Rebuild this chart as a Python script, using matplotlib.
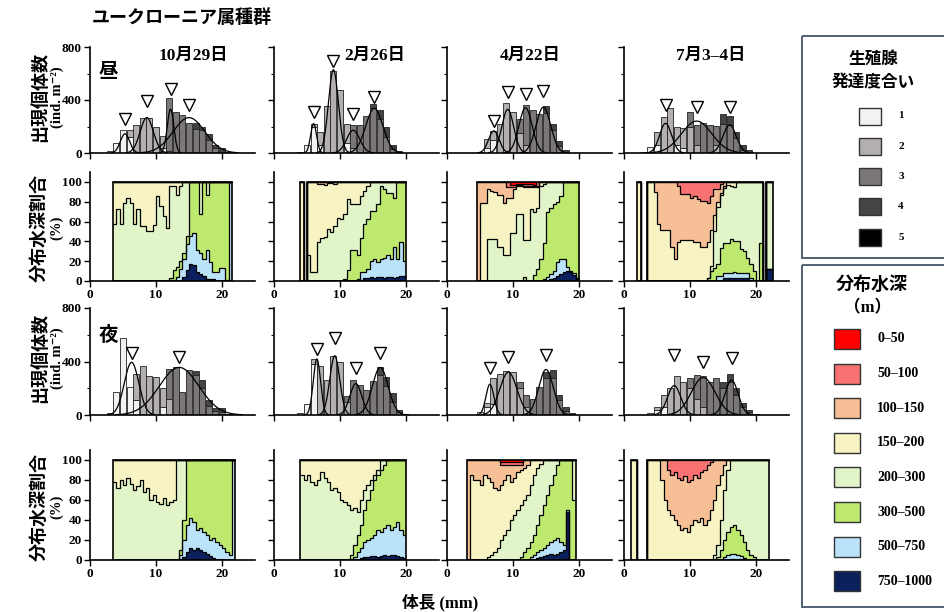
import numpy as np
import matplotlib
matplotlib.use('Agg')
import matplotlib.pyplot as plt
from matplotlib.patches import Rectangle

plt.rcParams['font.family'] = ['Liberation Serif', 'Noto Sans CJK JP', 'DejaVu Sans']
plt.rcParams['font.weight'] = 'bold'
plt.rcParams['axes.unicode_minus'] = False

# ------------------------------------------------------------------ labels
TITLE = 'ユークローニア属種群'
DATES = ['10月29日', '2月26日', '4月22日', '7月3–4日']
STAGE_LABELS = ['1', '2', '3', '4', '5']
DEPTH_LABELS = ['0–50', '50–100', '100–150', '150–200', '200–300', '300–500', '500–750', '750–1000']
STAGE_COLORS = ['#f2f2f2', '#b3afaf', '#7b7777', '#454343', '#000000']
DEPTH_CLASSES = ['navy', 'blue', 'green', 'lgreen', 'yellow', 'peach', 'salmon', 'red']
DEPTH_COLORS = {'red': '#ff0000', 'salmon': '#f87272', 'peach': '#f6bf95', 'yellow': '#f7f3c2',
                'lgreen': '#e1f5c8', 'green': '#bde96e', 'blue': '#bae3fa', 'navy': '#0b215e'}

# ------------------------------------------------------------------ histograms (ind. m-2), 1 mm bins
# day
hd1_x = list(range(3, 22))
hd1_s1 = [17, 72, 172, 120, 0, 0, 0, 0, 40, 16, 0, 0, 0, 0, 0, 0, 0, 0, 0]
hd1_s2 = [0, 0, 0, 52, 215, 267, 267, 196, 92, 0, 0, 0, 0, 0, 0, 0, 0, 0, 0]
hd1_s3 = [0, 0, 0, 0, 0, 0, 0, 0, 0, 400, 309, 284, 224, 180, 170, 100, 40, 0, 0]
hd1_s4 = [0, 0, 0, 0, 0, 0, 0, 0, 0, 0, 0, 0, 0, 49, 30, 42, 22, 37, 10]
hd1_mean = [5.3, 8.6, 12.2, 15.0]
hd1_sd = [0.7, 1.0, 0.5, 2.4]
hd1_peak = [145, 267, 330, 267]
hd1_tri = [254, 391, 486, 359]

hd2_x = list(range(4, 20))
hd2_s1 = [8, 60, 200, 60, 0, 0, 0, 72, 0, 0, 0, 0, 0, 0, 0, 0]
hd2_s2 = [0, 0, 22, 100, 352, 621, 476, 150, 40, 0, 0, 0, 0, 0, 0, 0]
hd2_s3 = [0, 0, 0, 0, 0, 0, 0, 0, 170, 215, 277, 340, 260, 120, 30, 0]
hd2_s4 = [0, 0, 0, 0, 0, 0, 0, 0, 0, 0, 0, 32, 62, 77, 30, 17]
hd2_mean = [6.0, 9.0, 12.0, 15.2]
hd2_sd = [0.45, 0.75, 1.0, 1.3]
hd2_peak = [222, 628, 172, 337]
hd2_tri = [309, 696, 297, 426]

hd3_x = list(range(5, 19))
hd3_s1 = [10, 40, 100, 0, 0, 0, 0, 0, 0, 0, 0, 0, 0, 0]
hd3_s2 = [0, 65, 67, 217, 374, 309, 150, 60, 0, 0, 0, 0, 0, 0]
hd3_s3 = [0, 0, 0, 0, 0, 0, 104, 299, 321, 291, 300, 170, 50, 0]
hd3_s4 = [0, 0, 0, 0, 0, 0, 0, 0, 0, 0, 54, 47, 42, 25]
hd3_mean = [7.1, 9.2, 11.9, 14.6]
hd3_sd = [0.8, 0.9, 1.0, 1.1]
hd3_peak = [167, 329, 341, 346]
hd3_tri = [241, 458, 448, 471]

hd4_x = list(range(3, 20))
hd4_s1 = [5, 42, 60, 0, 0, 60, 40, 0, 0, 0, 0, 0, 0, 0, 0, 0, 0]
hd4_s2 = [0, 0, 97, 274, 341, 139, 152, 200, 60, 0, 0, 60, 0, 0, 0, 0, 0]
hd4_s3 = [0, 0, 0, 0, 0, 0, 0, 111, 152, 224, 212, 147, 221, 211, 112, 22, 0]
hd4_s4 = [0, 0, 0, 0, 0, 0, 0, 0, 0, 0, 0, 0, 70, 70, 50, 40, 25]
hd4_mean = [6.3, 11.0, 16.0]
hd4_sd = [0.9, 2.3, 1.0]
hd4_peak = [224, 241, 212]
hd4_tri = [361, 349, 349]

# night
hn1_x = list(range(3, 22))
hn1_s1 = [17, 169, 574, 210, 114, 0, 0, 0, 60, 0, 0, 0, 0, 0, 0, 0, 0, 0, 0]
hn1_s2 = [0, 0, 0, 0, 193, 370, 290, 283, 141, 120, 0, 0, 0, 0, 0, 0, 0, 0, 0]
hn1_s3 = [0, 0, 0, 0, 0, 0, 0, 0, 0, 226, 356, 169, 339, 300, 200, 70, 30, 20, 0]
hn1_s4 = [0, 0, 0, 0, 0, 0, 0, 0, 0, 0, 0, 0, 0, 32, 61, 44, 26, 36, 10]
hn1_mean = [6.3, 13.5]
hn1_sd = [1.1, 3.0]
hn1_peak = [394, 356]
hn1_tri = [460, 436]

hn2_x = list(range(4, 21))
hn2_s1 = [12, 85, 380, 0, 0, 0, 0, 0, 0, 0, 0, 0, 0, 0, 0, 0, 0]
hn2_s2 = [0, 0, 39, 363, 259, 443, 394, 100, 0, 0, 0, 0, 0, 0, 0, 0, 0]
hn2_s3 = [0, 0, 0, 0, 0, 0, 0, 45, 259, 223, 186, 254, 300, 220, 100, 20, 0]
hn2_s4 = [0, 0, 0, 0, 0, 0, 0, 0, 0, 0, 0, 0, 56, 63, 62, 21, 10]
hn2_mean = [6.5, 9.2, 12.4, 16.1]
hn2_sd = [0.55, 0.75, 0.9, 1.2]
hn2_peak = [419, 443, 235, 356]
hn2_tri = [496, 573, 351, 460]

hn3_x = list(range(5, 20))
hn3_s1 = [20, 60, 80, 0, 0, 0, 0, 0, 0, 0, 0, 0, 0, 0, 0]
hn3_s2 = [0, 30, 200, 310, 330, 320, 200, 60, 0, 0, 0, 0, 0, 0, 0]
hn3_s3 = [0, 0, 0, 0, 0, 0, 50, 90, 120, 210, 280, 280, 110, 30, 0]
hn3_s4 = [0, 0, 0, 0, 0, 0, 0, 0, 0, 0, 40, 60, 40, 30, 15]
hn3_mean = [6.5, 9.3, 15.0]
hn3_sd = [0.6, 1.3, 1.1]
hn3_peak = [230, 320, 340]
hn3_tri = [352, 434, 449]

hn4_x = list(range(4, 21))
hn4_s1 = [15, 40, 60, 0, 0, 0, 0, 0, 0, 0, 0, 0, 0, 0, 0, 0, 0]
hn4_s2 = [0, 20, 90, 200, 290, 250, 200, 120, 60, 0, 0, 0, 0, 0, 0, 0, 0]
hn4_s3 = [0, 0, 0, 0, 0, 0, 80, 180, 230, 250, 280, 200, 250, 150, 60, 20, 0]
hn4_s4 = [0, 0, 0, 0, 0, 0, 0, 0, 0, 0, 0, 50, 60, 50, 30, 20, 10]
hn4_mean = [7.6, 12.0, 16.3]
hn4_sd = [1.0, 1.8, 1.0]
hn4_peak = [220, 280, 260]
hn4_tri = [449, 396, 426]

# ------------------------------------------------------------------ depth distribution (%), 0.5 mm bins
# values = cumulative upper edge (%) of each depth class, stacked from deepest class
BIN_W = 0.5
dd1_start = 3.5
dd1_navy = [0]*21 + [4, 11, 17, 16, 9, 7, 5, 2, 2, 2] + [0]*5
dd1_blue = [0]*17 + [1, 1, 4, 12, 22, 37, 45, 48, 31, 28, 22, 31, 19, 9, 9, 13, 13, 1, 100]
dd1_green = [0]*17 + [3, 11, 14, 20, 28, 45, 100, 100, 100, 68, 100, 87, 100, 100, 100, 100, 100, 100, 100]
dd1_lgreen = [58, 73, 58, 79, 84, 79, 58, 73, 56, 56, 50, 50, 57, 86, 76, 66, 53, 96, 96, 87, 96] + [100]*15
dd1_yellow = [100]*36

dd2_start = 4.0
dd2_navy = [0, 0] + [0]*16 + [1, 3, 3, 4, 3, 4, 4, 3, 4, 4, 3, 4, 5, 5]
dd2_blue = [0, 0] + [0]*15 + [2, 9, 9, 12, 20, 22, 19, 22, 23, 26, 22, 34, 22, 39, 20]
dd2_green = [0, 0] + [0]*11 + [2, 11, 31, 31, 26, 43, 58, 63, 71, 71, 78, 96, 93, 89, 89, 84, 100, 100, 100]
dd2_lgreen = [0, 0] + [26, 9, 9, 39, 43, 44, 52, 49, 56, 64, 63, 68, 83, 78, 78, 78, 86, 91, 96] + [100]*11
dd2_yellow = [100, 0] + [100, 100, 100, 98, 98, 97, 99, 99, 98] + [100]*21
dd2_peach = [100, 0] + [100]*30

dd3_start = 4.5
dd3_navy = [0]*22 + [2, 3, 5, 7, 9, 10, 9, 6, 2]
dd3_blue = [0]*20 + [2, 4, 7, 10, 19, 22, 22, 14, 10, 8, 3]
dd3_green = [0]*14 + [4, 0, 0, 6, 12, 22, 38, 70, 74, 78, 80, 86, 100, 100, 100, 100, 100]
dd3_lgreen = [0, 0, 0, 42, 42, 42, 34, 34, 26, 26, 48, 48, 68, 68, 41, 41, 73, 70, 74, 96, 98] + [100]*10
dd3_yellow = [0, 79, 79, 93, 91, 90, 87, 87, 79, 84, 84, 93, 96, 96, 95, 95, 95, 95, 95, 100] + [100]*11
dd3_peach = [100]*9 + [95, 95, 95, 97, 97, 96, 96, 96, 96, 96] + [100]*12
dd3_salmon = [100]*10 + [97, 97, 98, 98, 98, 98, 98, 97] + [100]*13
dd3_red = [100]*31

dd4_start = 2.0
dd4_navy = [0]*26 + [3]*8 + [0]*5 + [12, 12]
dd4_blue = [0]*24 + [5, 5, 8, 8, 8, 9, 8, 8, 8, 8, 3] + [0]*4 + [12, 12]
dd4_green = [0]*21 + [3, 10, 13, 17, 33, 38, 38, 42, 40, 40, 32, 30, 23, 17, 10, 0, 38] + [0, 12, 12]
dd4_lgreen = [0]*21 + [3, 15, 50, 75, 87, 94, 97, 96, 95] + [100]*8 + [0, 100, 100]
dd4_yellow = [100, 0, 0, 100, 100, 90, 58, 51, 51, 51, 34, 22, 39, 41, 41, 41, 41, 39, 39, 34, 34, 39, 51,
              67, 80, 89, 96] + [100]*11 + [0, 100, 100]
dd4_peach = [100, 0, 0] + [100]*9 + [96, 88, 88, 88, 84, 86, 83, 81, 81, 79, 86, 93, 93, 98] + [100]*12 + [0, 100, 100]
dd4_salmon = [100, 0, 0] + [100]*35 + [0, 100, 100]

dn1_start = 3.5
dn1_navy = [0]*21 + [3, 8, 12, 10, 12, 10, 8, 6, 4, 2] + [0]*6
dn1_blue = [0]*20 + [5, 20, 35, 42, 38, 30, 32, 28, 25, 20, 22, 18, 15, 12, 8, 5, 100]
dn1_green = [0]*20 + [10, 40] + [100]*15
dn1_lgreen = [78, 72, 80, 75, 82, 76, 70, 74, 80, 68, 72, 60, 65, 58, 56, 62, 55, 58, 60, 100, 100] + [100]*16
dn1_yellow = [100]*37

dn2_start = 4.0
dn2_navy = [0]*18 + [2, 3, 3, 4, 4, 3, 4, 5, 4, 5, 5, 4, 3, 2]
dn2_blue = [0]*16 + [3, 8, 12, 18, 20, 22, 25, 30, 28, 32, 35, 30, 33, 38, 30, 25]
dn2_green = [0]*15 + [5, 15, 25, 35, 50, 60, 70, 80, 85, 90, 95, 100, 100, 100, 100, 100, 100]
dn2_lgreen = [85, 80, 85, 78, 75, 80, 88, 82, 78, 70, 72, 68, 60, 58, 55, 50, 52, 48, 60, 70, 75, 80, 85, 90] + [100]*8
dn2_yellow = [100]*32

dn3_start = 3.0
dn3_navy = [0]*21 + [2, 3, 4, 5, 6, 5, 6, 8, 10, 48, 0, 0]
dn3_blue = [0]*19 + [3, 5, 8, 10, 12, 15, 18, 20, 22, 18, 15, 50, 0, 0]
dn3_green = [0]*16 + [3, 8, 12, 18, 25, 35, 45, 55, 65, 75, 85, 95, 100, 100, 100, 100, 60]
dn3_lgreen = [0]*6 + [3, 5, 8, 12, 20, 25, 30, 40, 45, 50, 55, 60, 65, 75, 85, 92, 96] + [100]*10
dn3_yellow = [0, 85, 80, 80, 75, 85, 82, 78, 72, 70, 75, 80, 85, 78, 82, 88, 90, 92, 95] + [100]*14
dn3_peach = [100]*10 + [95]*7 + [100]*16
dn3_salmon = [100]*10 + [98]*7 + [100]*16
dn3_red = [100]*33

dn4_start = 1.0
dn4_navy = [0]*30 + [1, 1, 1, 1] + [0]*8
dn4_blue = [0]*28 + [3, 5, 6, 6, 5, 4, 2] + [0]*7
dn4_green = [0]*26 + [3, 10, 20, 28, 33, 35, 30, 25, 18, 10, 5, 3] + [0]*4
dn4_lgreen = [0]*25 + [5, 15, 40, 70, 90] + [100]*11 + [100]
dn4_yellow = [100, 100, 0, 0, 0, 100, 100, 100, 100] + [80, 60, 50, 45, 40, 35, 30, 32, 28, 35, 40, 38, 42, 35,
                                                        40, 50, 60, 75, 85, 95] + [100]*12 + [100]
dn4_peach = [100, 100, 0, 0, 0] + [100]*6 + [90, 85, 88, 82, 80, 84, 78, 80, 85, 82, 88, 90, 95, 98] + [100]*17
dn4_salmon = [100, 100, 0, 0, 0] + [100]*37

# ------------------------------------------------------------------ assemble
hist_day = [
    (hd1_x, [hd1_s1, hd1_s2, hd1_s3, hd1_s4], hd1_mean, hd1_sd, hd1_peak, hd1_tri),
    (hd2_x, [hd2_s1, hd2_s2, hd2_s3, hd2_s4], hd2_mean, hd2_sd, hd2_peak, hd2_tri),
    (hd3_x, [hd3_s1, hd3_s2, hd3_s3, hd3_s4], hd3_mean, hd3_sd, hd3_peak, hd3_tri),
    (hd4_x, [hd4_s1, hd4_s2, hd4_s3, hd4_s4], hd4_mean, hd4_sd, hd4_peak, hd4_tri)]
hist_night = [
    (hn1_x, [hn1_s1, hn1_s2, hn1_s3, hn1_s4], hn1_mean, hn1_sd, hn1_peak, hn1_tri),
    (hn2_x, [hn2_s1, hn2_s2, hn2_s3, hn2_s4], hn2_mean, hn2_sd, hn2_peak, hn2_tri),
    (hn3_x, [hn3_s1, hn3_s2, hn3_s3, hn3_s4], hn3_mean, hn3_sd, hn3_peak, hn3_tri),
    (hn4_x, [hn4_s1, hn4_s2, hn4_s3, hn4_s4], hn4_mean, hn4_sd, hn4_peak, hn4_tri)]
depth_day = [
    (dd1_start, dict(navy=dd1_navy, blue=dd1_blue, green=dd1_green, lgreen=dd1_lgreen, yellow=dd1_yellow)),
    (dd2_start, dict(navy=dd2_navy, blue=dd2_blue, green=dd2_green, lgreen=dd2_lgreen, yellow=dd2_yellow,
                     peach=dd2_peach)),
    (dd3_start, dict(navy=dd3_navy, blue=dd3_blue, green=dd3_green, lgreen=dd3_lgreen, yellow=dd3_yellow,
                     peach=dd3_peach, salmon=dd3_salmon, red=dd3_red)),
    (dd4_start, dict(navy=dd4_navy, blue=dd4_blue, green=dd4_green, lgreen=dd4_lgreen, yellow=dd4_yellow,
                     peach=dd4_peach, salmon=dd4_salmon))]
depth_night = [
    (dn1_start, dict(navy=dn1_navy, blue=dn1_blue, green=dn1_green, lgreen=dn1_lgreen, yellow=dn1_yellow)),
    (dn2_start, dict(navy=dn2_navy, blue=dn2_blue, green=dn2_green, lgreen=dn2_lgreen, yellow=dn2_yellow)),
    (dn3_start, dict(navy=dn3_navy, blue=dn3_blue, green=dn3_green, lgreen=dn3_lgreen, yellow=dn3_yellow,
                     peach=dn3_peach, salmon=dn3_salmon, red=dn3_red)),
    (dn4_start, dict(navy=dn4_navy, blue=dn4_blue, green=dn4_green, lgreen=dn4_lgreen, yellow=dn4_yellow,
                     peach=dn4_peach, salmon=dn4_salmon))]

# ------------------------------------------------------------------ drawing helpers
W, H = 944, 612
fig = plt.figure(figsize=(W / 100, H / 100), dpi=100)


def add_ax(x0, ybot, w, h):
    return fig.add_axes([x0 / W, 1 - ybot / H, w / W, h / H])


def style(ax, yticks, yminor, ylim, ylabels, xlabels):
    ax.set_xlim(0, 25)
    ax.set_ylim(*ylim)
    for s in ['top', 'right']:
        ax.spines[s].set_visible(False)
    for s in ['left', 'bottom']:
        ax.spines[s].set_linewidth(1.2)
    ax.set_xticks([0, 10, 20])
    ax.set_yticks(yticks)
    if yminor:
        ax.set_yticks(yminor, minor=True)
    ax.tick_params(direction='out', length=4, width=1.0, labelsize=9.5, pad=2)
    ax.tick_params(which='minor', direction='out', length=2.5, width=0.8)
    ax.tick_params(labelleft=ylabels, labelbottom=xlabels)
    ax.patch.set_alpha(0)


def draw_hist(ax, x, stages, means, sds, peaks, tri):
    x = np.array(x, float)
    bottom = np.zeros(len(x))
    for vals, col in zip(stages, STAGE_COLORS):
        vals = np.array(vals, float)
        m = vals > 0
        ax.bar(x[m], vals[m], width=0.92, bottom=bottom[m], color=col, edgecolor='#222222', linewidth=0.6,
               zorder=2)
        bottom += vals
    xs = np.linspace(0, 25, 600)
    for mu, sd, pk in zip(means, sds, peaks):
        y = pk * np.exp(-0.5 * ((xs - mu) / sd) ** 2)
        y = np.where(y > 2, y, np.nan)
        ax.plot(xs, y, color='black', lw=0.9, zorder=3)
    ax.plot(means, tri, linestyle='none', marker='v', ms=9, mfc='white', mec='black', mew=1.0, zorder=4)


def draw_depth(ax, start, layers):
    n = len(next(iter(layers.values())))
    edges = start + BIN_W * np.arange(n + 1)
    prev = np.zeros(n)
    tops = []
    for cls in DEPTH_CLASSES:
        top = np.array(layers[cls], float) if cls in layers else prev.copy()
        ax.stairs(top, edges, baseline=prev, fill=True, facecolor=DEPTH_COLORS[cls], edgecolor='none',
                  linewidth=0, zorder=1)
        tops.append(top)
        prev = top
    for top in tops[:-1]:
        ax.stairs(top, edges, baseline=None, color='black', linewidth=0.9, zorder=2)
    present = tops[-1] > 0
    i = 0
    while i < n:
        if present[i]:
            j = i
            while j + 1 < n and present[j + 1]:
                j += 1
            ax.add_patch(Rectangle((edges[i], 0), edges[j + 1] - edges[i], 100, fill=False,
                                   edgecolor='black', linewidth=1.2, zorder=3))
            i = j + 1
        else:
            i += 1


COL_X0 = [90, 274, 447, 624]
AXW = 165
ROWS = [(153, 106), (281, 109), (415, 107), (560, 110)]

for c in range(4):
    ax = add_ax(COL_X0[c], ROWS[0][0], AXW, ROWS[0][1])
    draw_hist(ax, *hist_day[c])
    style(ax, [0, 400, 800], [200, 600], (0, 800), c == 0, False)
    ax = add_ax(COL_X0[c], ROWS[1][0], AXW, ROWS[1][1])
    draw_depth(ax, *depth_day[c])
    style(ax, [0, 20, 40, 60, 80, 100], None, (0, 110), c == 0, True)
    ax = add_ax(COL_X0[c], ROWS[2][0], AXW, ROWS[2][1])
    draw_hist(ax, *hist_night[c])
    style(ax, [0, 400, 800], [200, 600], (0, 800), c == 0, False)
    ax = add_ax(COL_X0[c], ROWS[3][0], AXW, ROWS[3][1])
    draw_depth(ax, *depth_night[c])
    style(ax, [0, 20, 40, 60, 80, 100], None, (0, 110), c == 0, True)

# ------------------------------------------------------------------ texts
fig.text(92 / W, 1 - 18 / H, TITLE, ha='left', va='center', fontsize=13)
for xc, d in zip([193, 375, 530, 711], DATES):
    fig.text(xc / W, 1 - 56 / H, d, ha='center', va='center', fontsize=12.5)
fig.text(108 / W, 1 - 72 / H, '昼', ha='center', va='center', fontsize=14)
fig.text(108 / W, 1 - 335 / H, '夜', ha='center', va='center', fontsize=14)

for yc in [97, 358]:
    fig.text(40 / W, 1 - yc / H, '出現個体数', rotation=90, ha='center', va='center', fontsize=13)
    fig.text(57 / W, 1 - yc / H, '(ind. m⁻²)', rotation=90, ha='center', va='center', fontsize=10.5)
for yc in [228, 507]:
    fig.text(40 / W, 1 - yc / H, '分布水深割合', rotation=90, ha='center', va='center', fontsize=13)
    fig.text(57 / W, 1 - yc / H, '(%)', rotation=90, ha='center', va='center', fontsize=10.5)
fig.text(440 / W, 1 - 603 / H, '体長 (mm)', ha='center', va='center', fontsize=12)

# ------------------------------------------------------------------ legends
lg = fig.add_axes([0, 0, 1, 1])
lg.set_xlim(0, W)
lg.set_ylim(H, 0)
lg.axis('off')
BOX_EC = '#44546a'
lg.add_patch(Rectangle((802, 36), 160, 222, fill=False, edgecolor=BOX_EC, linewidth=1.3))
lg.text(873, 60, '生殖腺', ha='center', va='center', fontsize=12)
lg.text(873, 83, '発達度合い', ha='center', va='center', fontsize=12)
for k, (lab, col) in enumerate(zip(STAGE_LABELS, STAGE_COLORS)):
    yc = 116 + 30.3 * k
    lg.add_patch(Rectangle((859, yc - 8.5), 22, 17, facecolor=col, edgecolor='#333333', linewidth=1.0))
    lg.text(901, yc, lab, ha='center', va='center', fontsize=8)

lg.add_patch(Rectangle((802, 265), 160, 342, fill=False, edgecolor=BOX_EC, linewidth=1.3))
lg.text(872, 285, '分布水深', ha='center', va='center', fontsize=13)
lg.text(868, 308, '（m）', ha='center', va='center', fontsize=12)
for k, (lab, cls) in enumerate(zip(DEPTH_LABELS, DEPTH_CLASSES[::-1])):
    yc = 339 + 34.6 * k
    lg.add_patch(Rectangle((834, yc - 10), 26, 20, facecolor=DEPTH_COLORS[cls], edgecolor='#333333',
                           linewidth=1.0))
    lg.text(877, yc, lab, ha='left', va='center', fontsize=10)

fig.savefig('out.png', dpi=100)
